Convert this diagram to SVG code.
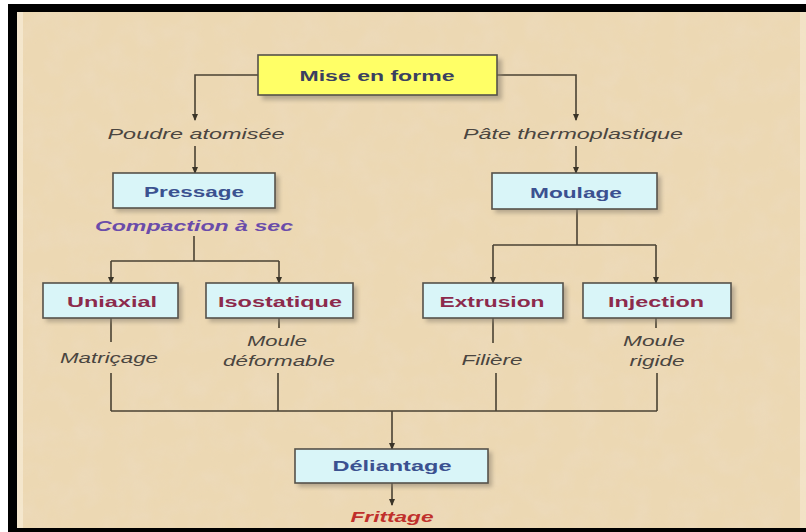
<svg xmlns="http://www.w3.org/2000/svg" width="806" height="532" viewBox="0 0 806 532">
<defs>
<filter id="tex" x="0" y="0" width="100%" height="100%">
<feTurbulence type="fractalNoise" baseFrequency="0.04" numOctaves="3" seed="4" result="n"/>
<feColorMatrix type="matrix" values="0 0 0 0 0.85  0 0 0 0 0.72  0 0 0 0 0.55  0 0 0 1.2 -0.45" result="c"/>
<feComposite in="c" in2="SourceGraphic" operator="in"/>
</filter>
<filter id="sh" x="-10%" y="-20%" width="130%" height="160%">
<feGaussianBlur stdDeviation="2"/>
</filter>
<marker id="arr" viewBox="0 0 8 8" refX="7" refY="4" markerWidth="7" markerHeight="7" markerUnits="userSpaceOnUse" orient="auto">
<path d="M0,0.5 L8,4 L0,7.5 z" fill="#3a3428"/>
</marker>
</defs>
<style>
.ln{fill:none;stroke:#4a4233;stroke-width:1.6}
.box{fill:#d9f5f8;stroke:#55524a;stroke-width:1.6}
.ybox{fill:#ffff66;stroke:#55524a;stroke-width:1.6}
.shd{fill:#8a8070;opacity:0.55}
.t{font-family:"Liberation Sans",Arial,sans-serif;text-anchor:middle}
.bold{font-weight:bold;font-size:15px}
.blue{fill:#3b5190}
.red{fill:#8c2a4c}
.lab{font-style:italic;font-size:14px;fill:#4a4540}
</style>
<rect x="0" y="0" width="806" height="532" fill="#ffffff"/>
<rect x="8" y="4" width="798" height="528" fill="#000000"/>
<rect x="17" y="12" width="789" height="516" fill="#ecd8b3"/>
<rect x="17" y="12" width="789" height="516" fill="#ecd8b3" filter="url(#tex)" opacity="0.7"/>
<rect x="17" y="12" width="6" height="516" fill="#f6ead2" opacity="0.8"/>
<rect x="800" y="12" width="6" height="516" fill="#f6ead2" opacity="0.6"/>

<g id="connectors">
<path class="ln" d="M258,75 H195 V120" marker-end="url(#arr)"/>
<path class="ln" d="M497,75 H576 V120" marker-end="url(#arr)"/>
<path class="ln" d="M195,146 V173" marker-end="url(#arr)"/>
<path class="ln" d="M576,146 V173" marker-end="url(#arr)"/>
<path class="ln" d="M194,236 V261"/>
<path class="ln" d="M111,261 H279"/>
<path class="ln" d="M111,261 V283" marker-end="url(#arr)"/>
<path class="ln" d="M279,261 V283" marker-end="url(#arr)"/>
<path class="ln" d="M577,209 V245"/>
<path class="ln" d="M493,245 H656"/>
<path class="ln" d="M493,245 V283" marker-end="url(#arr)"/>
<path class="ln" d="M656,245 V283" marker-end="url(#arr)"/>
<path class="ln" d="M111,318 V342 M111,373 V411"/>
<path class="ln" d="M279,318 V328 M278,373 V411"/>
<path class="ln" d="M493,318 V343 M496,373 V411"/>
<path class="ln" d="M656,318 V328 M657,373 V411"/>
<path class="ln" d="M111,411 H657"/>
<path class="ln" d="M392,411 V449" marker-end="url(#arr)"/>
<path class="ln" d="M392,483 V505" marker-end="url(#arr)"/>
</g>

<g id="mise-en-forme">
<rect class="shd" x="262" y="59" width="240" height="41" filter="url(#sh)"/>
<rect class="ybox" x="258" y="55" width="239" height="40"/>
<text class="t bold" x="377" y="81" fill="#3a4060" textLength="155" lengthAdjust="spacingAndGlyphs">Mise en forme</text>
</g>

<g id="poudre">
<text class="t lab" x="196" y="139" textLength="177" lengthAdjust="spacingAndGlyphs">Poudre atomisée</text>
</g>
<g id="pate">
<text class="t lab" x="573" y="139" textLength="220" lengthAdjust="spacingAndGlyphs">Pâte thermoplastique</text>
</g>

<g id="pressage">
<rect class="shd" x="116" y="176" width="163" height="36" filter="url(#sh)"/>
<rect class="box" x="113" y="173" width="162" height="35"/>
<text class="t bold blue" x="194" y="197" textLength="100" lengthAdjust="spacingAndGlyphs">Pressage</text>
</g>
<g id="compaction">
<text class="t" x="194" y="231" font-size="15" font-weight="bold" font-style="italic" fill="#6a4caa" textLength="198" lengthAdjust="spacingAndGlyphs">Compaction à sec</text>
</g>

<g id="moulage">
<rect class="shd" x="495" y="176" width="166" height="37" filter="url(#sh)"/>
<rect class="box" x="492" y="173" width="165" height="36"/>
<text class="t bold blue" x="576" y="198" textLength="92" lengthAdjust="spacingAndGlyphs">Moulage</text>
</g>

<g id="uniaxial">
<rect class="shd" x="46" y="286" width="136" height="36" filter="url(#sh)"/>
<rect class="box" x="43" y="283" width="135" height="35"/>
<text class="t bold red" x="112" y="307" textLength="90" lengthAdjust="spacingAndGlyphs">Uniaxial</text>
</g>
<g id="isostatique">
<rect class="shd" x="209" y="286" width="148" height="36" filter="url(#sh)"/>
<rect class="box" x="206" y="283" width="147" height="35"/>
<text class="t bold red" x="280" y="307" textLength="124" lengthAdjust="spacingAndGlyphs">Isostatique</text>
</g>
<g id="extrusion">
<rect class="shd" x="426" y="286" width="141" height="36" filter="url(#sh)"/>
<rect class="box" x="423" y="283" width="140" height="35"/>
<text class="t bold red" x="492" y="307" textLength="105" lengthAdjust="spacingAndGlyphs">Extrusion</text>
</g>
<g id="injection">
<rect class="shd" x="586" y="286" width="149" height="36" filter="url(#sh)"/>
<rect class="box" x="583" y="283" width="148" height="35"/>
<text class="t bold red" x="656" y="307" textLength="96" lengthAdjust="spacingAndGlyphs">Injection</text>
</g>

<g id="matricage">
<text class="t lab" x="109" y="363" textLength="98" lengthAdjust="spacingAndGlyphs">Matriçage</text>
</g>
<g id="moule-deformable">
<text class="t lab" x="277" y="346" textLength="60" lengthAdjust="spacingAndGlyphs">Moule</text>
<text class="t lab" x="279" y="366" textLength="112" lengthAdjust="spacingAndGlyphs">déformable</text>
</g>
<g id="filiere">
<text class="t lab" x="492" y="365" textLength="61" lengthAdjust="spacingAndGlyphs">Filière</text>
</g>
<g id="moule-rigide">
<text class="t lab" x="654" y="346" textLength="62" lengthAdjust="spacingAndGlyphs">Moule</text>
<text class="t lab" x="657" y="366" textLength="55" lengthAdjust="spacingAndGlyphs">rigide</text>
</g>

<g id="deliantage">
<rect class="shd" x="298" y="452" width="194" height="35" filter="url(#sh)"/>
<rect class="box" x="295" y="449" width="193" height="34"/>
<text class="t bold blue" x="392" y="471" textLength="119" lengthAdjust="spacingAndGlyphs">Déliantage</text>
</g>
<g id="frittage">
<text class="t" x="392" y="522" font-size="15" font-weight="bold" font-style="italic" fill="#c0302c" textLength="83" lengthAdjust="spacingAndGlyphs">Frittage</text>
</g>
</svg>
